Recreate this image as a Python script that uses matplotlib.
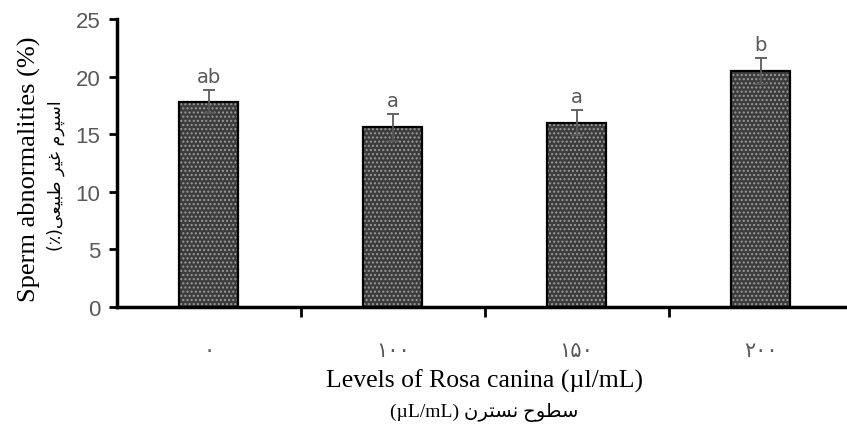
import numpy as np
import matplotlib
matplotlib.use("Agg")
from matplotlib import pyplot as plt

# Persian digit labels for Rosa canina levels
levels = ["\u06f0", "\u06f1\u06f0\u06f0", "\u06f1\u06f5\u06f0", "\u06f2\u06f0\u06f0"]
abnormal = [17.8, 15.6, 16.0, 20.5]
sem = [1.0, 1.15, 1.1, 1.15]
letters = ["ab", "a", "a", "b"]
yticks = [0, 5, 10, 15, 20, 25]

# pre-shaped (visual order) Persian strings, matplotlib does no bidi
ylabel_fa = ("(\u066a)"
             "\ufbfd\ufecc\ufbff\ufe92\ufec3 "
             "\ufeae\ufbff\ufecf "
             "\ufee1\ufeae\ufb59\ufeb3\ufe8d")
xlabel_fa = ("(\u00b5L/mL) "
             "\ufee5\ufeae\ufe98\ufeb4\ufee7 "
             "\ufea1\ufeee\ufec4\ufeb3")

grey = "#595959"
serif = ["Liberation Serif", "DejaVu Sans"]

fig = plt.figure(figsize=(8.47, 4.35), dpi=100)
ax = fig.add_axes([0.138, 0.292, 0.862, 0.662])

x = np.arange(len(levels))
w = 0.32
ax.bar(x, abnormal, width=w, color="#3c3c3c", edgecolor="#9a9a9a",
       hatch="....", linewidth=0, zorder=2)
ax.bar(x, abnormal, width=w, fill=False, edgecolor="black",
       linewidth=1.6, zorder=3)
ax.errorbar(x, abnormal, yerr=sem, fmt="none", ecolor=grey,
            elinewidth=1.3, capsize=4, capthick=1.3, zorder=4)

for xi, yi, ei, lt in zip(x, abnormal, sem, letters):
    ax.text(xi, yi + ei + 0.35, lt, ha="center", va="bottom",
            fontsize=14, color=grey, family="DejaVu Sans")

ax.set_xlim(-0.5, 3.47)
ax.set_ylim(0, 25)
ax.set_yticks(yticks)
ax.set_yticklabels([str(t) for t in yticks], fontsize=16, color=grey,
                   family="Liberation Sans")
ax.tick_params(axis="y", direction="out", length=6, width=2, color="black", pad=6)

# tick marks sit between categories, labels under the bars
ax.set_xticks([0.5, 1.5, 2.5])
ax.set_xticklabels([])
ax.tick_params(axis="x", which="major", direction="out", length=7, width=2)
ax.set_xticks(x, minor=True)
ax.set_xticklabels(levels, minor=True, fontsize=15, color=grey, family="DejaVu Sans")
ax.tick_params(axis="x", which="minor", length=0, pad=24)

for side in ["top", "right"]:
    ax.spines[side].set_visible(False)
for side in ["left", "bottom"]:
    ax.spines[side].set_linewidth(2.5)

ax.set_ylabel("")
fig.text(0.035, 0.61, "Sperm abnormalities (%)", rotation=90, ha="center",
         va="center", fontsize=19, family=serif)
fig.text(0.066, 0.595, ylabel_fa, rotation=90, ha="center", va="center",
         fontsize=12.5, family="DejaVu Sans")

fig.text(0.572, 0.124, "Levels of Rosa canina (\u00b5l/mL)", ha="center",
         va="center", fontsize=18.5, family=serif)
fig.text(0.572, 0.052, xlabel_fa, ha="center", va="center",
         fontsize=14, family=serif)

fig.savefig("out.png", dpi=100)
